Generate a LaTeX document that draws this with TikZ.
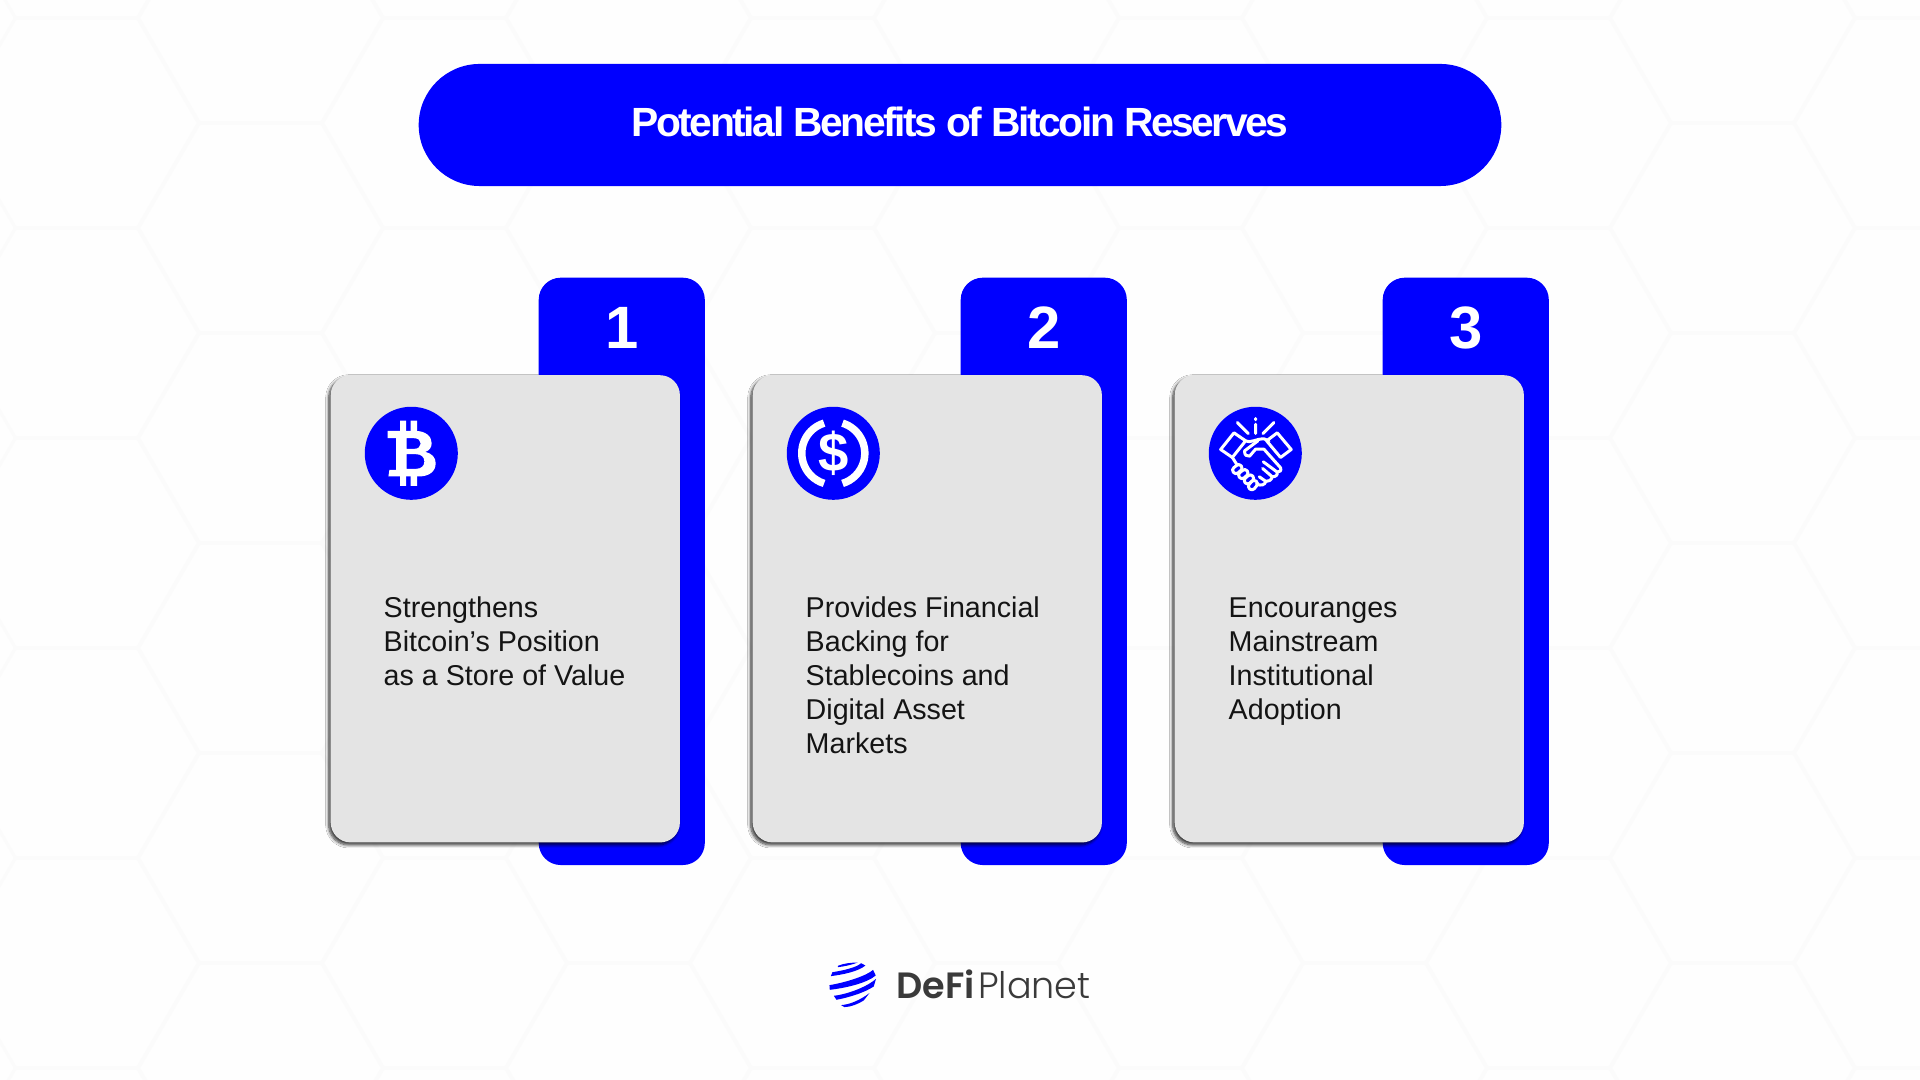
\documentclass[tikz,border=0pt]{standalone}
\usepackage{fontspec}
\setmainfont{Liberation Sans}
\newfontfamily\titlefont[LetterSpace=-5.9]{Liberation Sans}
\newfontfamily\logofont[BoldFont={Poppins SemiBold}]{Poppins Light}
\usetikzlibrary{shadows.blur}
\definecolor{coinblue}{HTML}{0000FF}
\definecolor{cardgray}{HTML}{E4E4E4}
\definecolor{hexline}{HTML}{FBFBFB}
\definecolor{pagewhite}{HTML}{FEFEFE}
\definecolor{logogray}{HTML}{3A3A3A}
\tikzset{
	x=0.01cm, y=-0.01cm,
	titlepill/.style={fill=coinblue, rounded corners=0.6099cm, minimum width=10.82cm, minimum height=1.22cm, inner sep=0pt},
	tabbox/.style={fill=coinblue, rounded corners=0.22cm, minimum width=1.66cm, minimum height=5.87cm, inner sep=0pt, anchor=north west},
	cardbox/.style={fill=cardgray, rounded corners=0.2cm, minimum width=3.49cm, minimum height=4.67cm, inner sep=0pt, anchor=north west,
		blur shadow={shadow xshift=-0.02cm, shadow yshift=-0.025cm, shadow blur radius=0.03cm, shadow blur steps=8, shadow opacity=80}},
	iconcoin/.style={fill=coinblue, circle, minimum size=0.93cm, inner sep=0pt},
	numlabel/.style={white, font=\fontsize{17}{17}\selectfont\bfseries, anchor=base, inner sep=0pt},
	cardtext/.style={black!92, font=\fontsize{8.15}{9.67}\selectfont, align=left, anchor=north west, inner sep=0pt},
	iconline/.style={white, line width=0.03cm, line cap=round, line join=round},
}
\begin{document}
\begin{tikzpicture}
	\useasboundingbox (0,0) rectangle (1920,1080);
	\fill[pagewhite] (0,0) rectangle (1920,1080);

	% background hexagons
	\begin{scope}
		\clip (0,0) rectangle (1920,1080);
		\foreach \i in {0,...,10}
			\foreach \j in {-1,...,5} {
				\pgfmathsetmacro{\cx}{76.5+184*\i}
				\pgfmathsetmacro{\cy}{123+210*\j+105*mod(\i,2)}
				\draw[hexline, line width=0.03cm] (\cx+122,\cy) -- (\cx+61,\cy+105) -- (\cx-61,\cy+105) -- (\cx-122,\cy) -- (\cx-61,\cy-105) -- (\cx+61,\cy-105) -- cycle;
			}
	\end{scope}

	\node[titlepill] (title) at (960,125) {};
	\node[white, font=\fontsize{11.6}{11.6}\selectfont\titlefont\bfseries, inner sep=0pt] (titletext) at (960,121.5) {Potential Benefits of Bitcoin Reserves};

	% tabs behind the cards
	\node[tabbox] (tabone) at (538,277) {};
	\node[tabbox] (tabtwo) at (960,277) {};
	\node[tabbox] (tabthree) at (1382,277) {};
	\node[numlabel] (numone) at (622,349) {1};
	\node[numlabel] (numtwo) at (1044,349) {2};
	\node[numlabel] (numthree) at (1466,349) {3};

	\node[cardbox] (cardone) at (330,374.5) {};
	\node[cardbox] (cardtwo) at (752,374.5) {};
	\node[cardbox] (cardthree) at (1174,374.5) {};

	\node[iconcoin] (coinone) at (411.3,453.3) {};
	\node[iconcoin] (cointwo) at (833.3,453.3) {};
	\node[iconcoin] (cointhree) at (1255.3,453.3) {};

	% bitcoin sign
	\begin{scope}[xshift=3.2cm, yshift=-2.7cm, x=0.003333cm, y=-0.003333cm]
		\fill[white] (240,452) rectangle (258,490) (272,452) rectangle (291,490) (240,610) rectangle (258,648) (272,610) rectangle (291,648);
		\fill[white, even odd rule] (203,483) -- (285,483) .. controls (318,483) and (335,500) .. (335,520) .. controls (335,533) and (328,542) .. (316,546) .. controls (336,551) and (347,563) .. (347,580) .. controls (347,605) and (328,620) .. (295,620) -- (205,620) -- (208,600) -- (228,600) -- (228,505) -- (203,505) -- cycle
			(260,505) -- (260,537) -- (282,537) .. controls (295,537) and (302,530) .. (302,521) .. controls (302,512) and (295,505) .. (282,505) -- cycle
			(260,553) -- (260,597) -- (288,597) .. controls (304,597) and (313,588) .. (313,575) .. controls (313,562) and (304,553) .. (288,553) -- cycle;
	\end{scope}

	% dollar coin
	\draw[white, line width=0.075cm] (833.3,453.3) ++(107:0.315cm) arc[start angle=107, end angle=253, radius=0.315cm];
	\draw[white, line width=0.075cm] (833.3,453.3) ++(73:0.315cm) arc[start angle=73, end angle=-73, radius=0.315cm];
	\node[white, font=\fontsize{15.5}{15.5}\selectfont\bfseries, inner sep=0pt] (dollar) at (833.3,453.3) {\$};

	% handshake
	\begin{scope}[xshift=12cm, yshift=-4cm, x=0.003333cm, y=-0.003333cm]
		\draw[iconline] (165,55) -- (165,59) (165,72) -- (165,100) (110,67) -- (143,100) (220,67) -- (187,100);
		\draw[iconline] (100,98) -- (135,122) -- (95,172) -- (60,148) -- cycle;
		\draw[iconline] (230,98) -- (272,148) -- (240,172) -- (198,122) -- cycle;
		\draw[iconline] (133,122) .. controls (150,130) and (165,116) .. (190,116) -- (205,122);
		\draw[iconline] (172,122) -- (132,152) .. controls (130,165) and (140,170) .. (147,168) -- (165,147) -- (190,147) -- (240,203) .. controls (243,212) and (238,216) .. (230,216) -- (188,185);
		\draw[iconline] (230,216) .. controls (232,225) and (225,230) .. (215,230) -- (186,205);
		\draw[iconline] (215,230) .. controls (212,240) and (205,245) .. (196,244) -- (176,230);
		\draw[iconline] (196,244) .. controls (192,255) and (182,258) .. (168,252);
		\draw[iconline] (95,172) -- (108,192);
		\draw[iconline, rounded corners=0.03cm, rotate around={40:(110,207)}] (95,197) rectangle (125,217);
		\draw[iconline, rounded corners=0.03cm, rotate around={40:(128,222)}] (113,212) rectangle (143,232);
		\draw[iconline, rounded corners=0.03cm, rotate around={40:(145,238)}] (130,228) rectangle (160,248);
		\draw[iconline, rounded corners=0.03cm, rotate around={50:(157,255)}] (142,245) rectangle (172,265);
	\end{scope}

	\node[cardtext] (textone) at (383,596.5) {Strengthens\\Bitcoin’s Position\\as a Store of Value};
	\node[cardtext] (texttwo) at (805,596.5) {Provides Financial\\Backing for\\Stablecoins and\\Digital Asset\\Markets};
	\node[cardtext] (textthree) at (1228,597.5) {Encouranges\\Mainstream\\Institutional\\Adoption};

	% logo
	\begin{scope}[xshift=8.2cm, yshift=-9.5cm, x=0.003333cm, y=-0.003333cm]
		\fill[coinblue] (52,46) .. controls (70,38) and (95,36) .. (112,36) .. controls (90,44) and (70,48) .. (52,50) -- cycle;
		\fill[coinblue] (36,65) .. controls (70,60) and (110,50) .. (122,38) -- (135,45) .. controls (115,62) and (70,72) .. (31,77) -- cycle;
		\fill[coinblue] (27,104) .. controls (80,95) and (140,75) .. (158,58) -- (166,75) .. controls (140,97) and (80,112) .. (28,118) -- cycle;
		\fill[coinblue] (40,136) .. controls (90,130) and (145,105) .. (167,85) -- (160,108) .. controls (135,125) and (90,140) .. (48,148) -- cycle;
		\fill[coinblue] (62,164) .. controls (90,162) and (120,148) .. (147,128) -- (130,150) .. controls (115,160) and (90,170) .. (72,170) -- cycle;
	\end{scope}
	\node[logogray, font=\fontsize{10.4}{10.4}\selectfont\logofont, anchor=base west, inner sep=0pt] (logotext) at (896,999) {\textbf{DeFi}\hspace{0.03cm}Planet};
\end{tikzpicture}
\end{document}
